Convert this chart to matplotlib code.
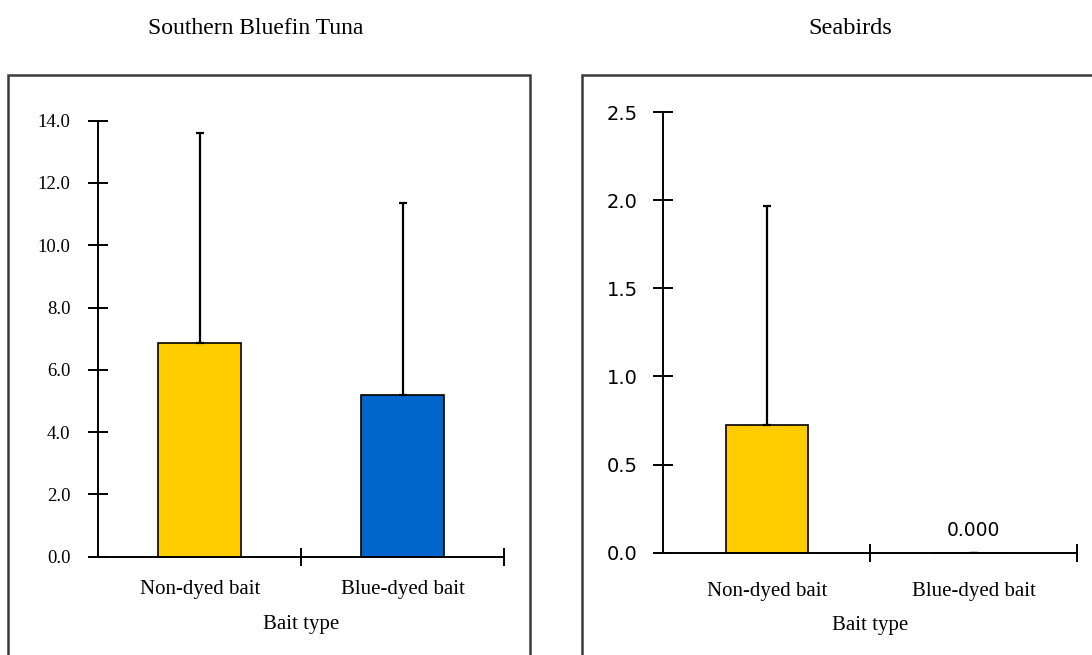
import matplotlib
matplotlib.use("Agg")
import matplotlib.pyplot as plt
from matplotlib.patches import Rectangle

# data
categories = ["Non-dyed bait", "Blue-dyed bait"]
tuna_means = [6.87, 5.20]
tuna_err = [6.75, 6.17]
bird_means = [0.724, 0.0]
bird_err = [1.24, 0.0]
bar_colors = ["#FFCC00", "#0066CC"]

tuna_ticks = [0, 2, 4, 6, 8, 10, 12, 14]
bird_ticks = [0, 0.5, 1.0, 1.5, 2.0, 2.5]

SERIF = ["Liberation Serif", "DejaVu Serif"]
SANS = ["DejaVu Sans"]

W, H = 1092, 655
fig = plt.figure(figsize=(W / 100, H / 100), dpi=100)


def px_axes(x0, x1, y_top, y_bot):
    return fig.add_axes([x0 / W, 1 - y_bot / H, (x1 - x0) / W, (y_bot - y_top) / H])


def frame(x0, x1, y_top):
    fig.patches.append(Rectangle((x0 / W, -0.2), (x1 - x0) / W, 0.2 + 1 - y_top / H,
                                 transform=fig.transFigure, fill=False,
                                 edgecolor="#3a3a3a", linewidth=1.8, clip_on=False))


def style_axes(ax, ymax, ticks, tick_family, tick_size, ypad, xpad):
    ax.set_xlim(-0.5, 1.5)
    ax.set_ylim(0, ymax)
    for s in ["top", "right"]:
        ax.spines[s].set_visible(False)
    for s in ["left", "bottom"]:
        ax.spines[s].set_linewidth(1.4)
    ax.set_yticks(ticks)
    ax.set_yticklabels(["%.1f" % t for t in ticks], family=tick_family, fontsize=tick_size)
    ax.tick_params(axis="y", direction="inout", length=14, width=1.4, pad=ypad)
    ax.set_xticks([0.5, 1.5])
    ax.set_xticklabels([])
    ax.tick_params(axis="x", which="major", direction="inout", length=13, width=1.4)
    ax.set_xticks([0, 1], minor=True)
    ax.set_xticklabels(categories, minor=True, family=SERIF, fontsize=15)
    ax.tick_params(axis="x", which="minor", length=0, pad=xpad)
    ax.set_xlabel("Bait type", family=SERIF, fontsize=15, labelpad=11)


# left panel: Southern Bluefin Tuna
frame(8, 530, 75)
ax1 = px_axes(98.3, 504, 120.7, 556.7)
ax1.bar([0, 1], tuna_means, width=0.41, color=bar_colors, edgecolor="black", linewidth=1.2,
        yerr=[[0, 0], tuna_err], error_kw=dict(ecolor="black", elinewidth=1.6, capsize=2.6, capthick=1.6))
style_axes(ax1, 14, tuna_ticks, SERIF, 13.5, 13, 17)
fig.text(256 / W, 1 - 28 / H, "Southern Bluefin Tuna", ha="center", va="center",
         family=SERIF, fontsize=17)

# right panel: Seabirds
frame(582, 1110, 75)
ax2 = px_axes(663.3, 1077.3, 112, 552.7)
ax2.bar([0, 1], bird_means, width=0.395, color=bar_colors, edgecolor="black", linewidth=1.2,
        yerr=[[0, 0], bird_err], error_kw=dict(ecolor="black", elinewidth=1.6, capsize=2.6, capthick=1.6))
ax2.bar_label(ax2.containers[1], labels=["", "%.3f" % bird_means[1]], padding=9,
              family=SANS, fontsize=13.5)
style_axes(ax2, 2.5, bird_ticks, SANS, 14, 11.5, 21)
fig.text(850 / W, 1 - 28 / H, "Seabirds", ha="center", va="center",
         family=SERIF, fontsize=17.5)

fig.savefig("out.png", dpi=100)
